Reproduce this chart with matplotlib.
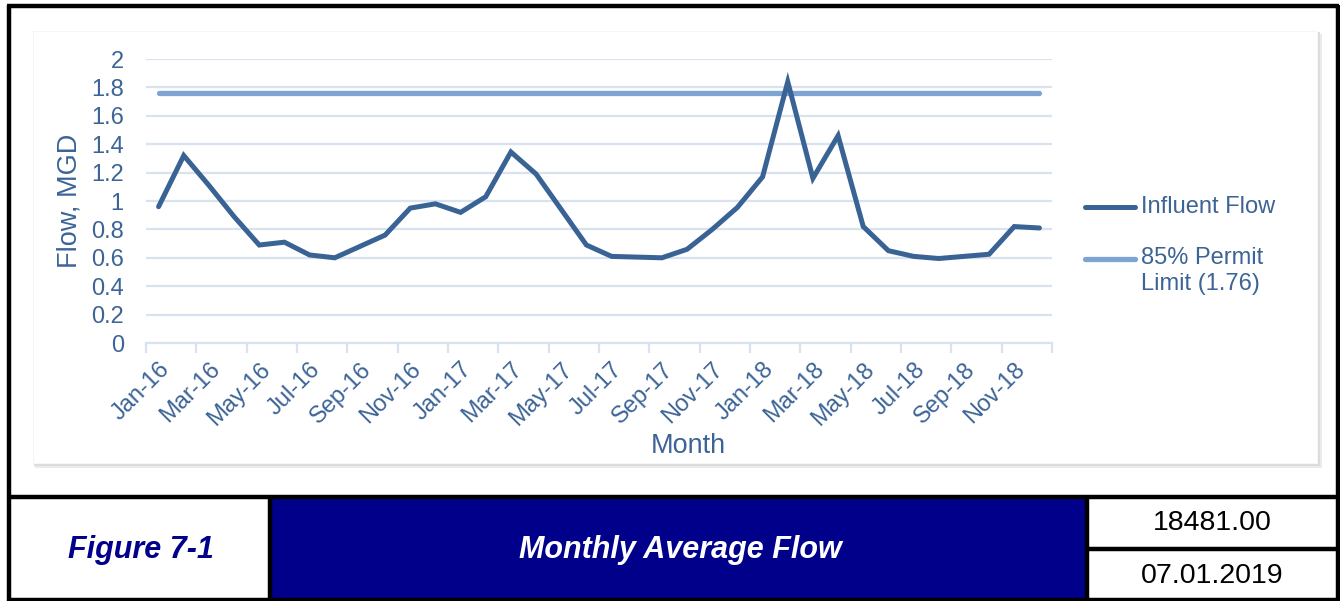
import matplotlib
matplotlib.use('Agg')
import matplotlib.pyplot as plt
from matplotlib.patches import Rectangle
import numpy as np

plt.rcParams['font.family'] = ['Liberation Sans', 'DejaVu Sans']

months = ['Jan-16', 'Feb-16', 'Mar-16', 'Apr-16', 'May-16', 'Jun-16',
          'Jul-16', 'Aug-16', 'Sep-16', 'Oct-16', 'Nov-16', 'Dec-16',
          'Jan-17', 'Feb-17', 'Mar-17', 'Apr-17', 'May-17', 'Jun-17',
          'Jul-17', 'Aug-17', 'Sep-17', 'Oct-17', 'Nov-17', 'Dec-17',
          'Jan-18', 'Feb-18', 'Mar-18', 'Apr-18', 'May-18', 'Jun-18',
          'Jul-18', 'Aug-18', 'Sep-18', 'Oct-18', 'Nov-18', 'Dec-18']
influent_flow = [0.96, 1.32, 1.11, 0.89, 0.69, 0.71, 0.62, 0.60, 0.68, 0.76, 0.95, 0.98,
                 0.92, 1.03, 1.345, 1.19, 0.94, 0.69, 0.61, 0.605, 0.60, 0.66, 0.80, 0.955,
                 1.17, 1.84, 1.16, 1.46, 0.82, 0.65, 0.61, 0.595, 0.61, 0.625, 0.82, 0.81]
permit_limit = [1.76] * len(months)
yticks = [0, 0.2, 0.4, 0.6, 0.8, 1, 1.2, 1.4, 1.6, 1.8, 2]
ytick_labels = ['0', '0.2', '0.4', '0.6', '0.8', '1', '1.2', '1.4', '1.6', '1.8', '2']
legend_labels = ['Influent Flow', '85% Permit\nLimit (1.76)']

W, H = 1340, 601
TXT = '#3C6496'
DARK = '#3A6395'
LIGHT = '#7EA4D3'
GRID = '#D9E2EF'
NAVY = '#00008B'

fig = plt.figure(figsize=(W / 100, H / 100), dpi=100)
fig.patch.set_facecolor('white')

# background / frame axes in pixel coordinates
bg = fig.add_axes([0, 0, 1, 1], zorder=0)
bg.set_xlim(0, W)
bg.set_ylim(H, 0)
bg.axis('off')

# chart card with soft shadow
bg.add_patch(Rectangle((35, 34), 1287, 434, facecolor='#EBEBEB', edgecolor='none'))
bg.add_patch(Rectangle((34, 32), 1286, 434, facecolor='#DCDCDC', edgecolor='none'))
bg.add_patch(Rectangle((33, 31), 1285, 433, facecolor='#F6F6F6', edgecolor='none'))
bg.add_patch(Rectangle((34, 32), 1283, 431, facecolor='white', edgecolor='none'))

# title block
bg.add_patch(Rectangle((270, 497), 817, 104, facecolor=NAVY, edgecolor='none'))
lw_b = 3.2
bg.plot([8.5, 8.5], [5, 601], color='black', lw=lw_b, solid_capstyle='butt')
bg.plot([1337.5, 1337.5], [5, 601], color='black', lw=lw_b, solid_capstyle='butt')
bg.plot([7, 1339], [5.5, 5.5], color='black', lw=lw_b, solid_capstyle='butt')
bg.plot([7, 1339], [497, 497], color='black', lw=lw_b, solid_capstyle='butt')
bg.plot([7, 1339], [599.5, 599.5], color='black', lw=lw_b, solid_capstyle='butt')
bg.plot([270, 270], [497, 601], color='black', lw=lw_b, solid_capstyle='butt')
bg.plot([1087, 1087], [497, 601], color='black', lw=lw_b, solid_capstyle='butt')
bg.plot([1087, 1339], [549, 549], color='black', lw=lw_b, solid_capstyle='butt')

bg.text(141, 550, 'Figure 7-1', color=NAVY, fontsize=22, fontweight='bold',
        fontstyle='italic', ha='center', va='center')
bg.text(680, 550, 'Monthly Average Flow', color='white', fontsize=22, fontweight='bold',
        fontstyle='italic', ha='center', va='center')
bg.text(1212, 523, '18481.00', color='black', fontsize=20.5, ha='center', va='center')
bg.text(1212, 576, '07.01.2019', color='black', fontsize=20.5, ha='center', va='center')

# main chart axes
left, right, top, bottom = 146, 1052, 59, 343
ax = fig.add_axes([left / W, 1 - bottom / H, (right - left) / W, (bottom - top) / H], zorder=2)
ax.patch.set_alpha(0)
x = np.arange(len(months))
ax.set_xlim(-0.5, len(months) - 0.5)
ax.set_ylim(0, 2)

ax.set_yticks(yticks)
ax.set_yticklabels(ytick_labels)
ax.yaxis.grid(True, color=GRID, lw=1.6)
ax.set_axisbelow(True)

ax.plot(x, permit_limit, color=LIGHT, lw=3.8, solid_capstyle='round', zorder=3)
ax.plot(x, influent_flow, color=DARK, lw=3.6, solid_capstyle='round', solid_joinstyle='miter',
        zorder=4)

for s in ['top', 'right', 'left']:
    ax.spines[s].set_visible(False)
ax.spines['bottom'].set_color(GRID)
ax.spines['bottom'].set_linewidth(1.6)

ax.set_xticks(x[::2])
ax.set_xticklabels(months[::2], rotation=45, ha='right', rotation_mode='anchor')
ax.set_xticks(np.arange(-0.5, len(months), 2), minor=True)
ax.tick_params(axis='x', which='major', length=0, pad=11, labelsize=17, labelcolor=TXT)
ax.tick_params(axis='x', which='minor', length=7, width=1.6, color=GRID, direction='out')
ax.tick_params(axis='y', length=0, pad=16, labelsize=17, labelcolor=TXT)

ax.set_ylabel('Flow, MGD', color=TXT, fontsize=19.5, labelpad=6)
ax.set_xlabel('Month', color=TXT, fontsize=19.5, labelpad=4)
ax.xaxis.set_label_coords((688 - left) / (right - left), -(446 - bottom) / (bottom - top))
ax.xaxis.label.set_va('center')

# legend (drawn in pixel coordinates, handle aligned with first text line)
bg.plot([1085, 1135], [207, 207], color=DARK, lw=3.6, solid_capstyle='round', zorder=3)
bg.plot([1085, 1135], [259, 259], color=LIGHT, lw=3.8, solid_capstyle='round', zorder=3)
bg.text(1141, 207, legend_labels[0], color=TXT, fontsize=17, ha='left', va='center')
bg.text(1141, 259 - 12, legend_labels[1], color=TXT, fontsize=17, ha='left', va='top',
        linespacing=1.25)

fig.savefig('out.png', dpi=100, facecolor='white')
